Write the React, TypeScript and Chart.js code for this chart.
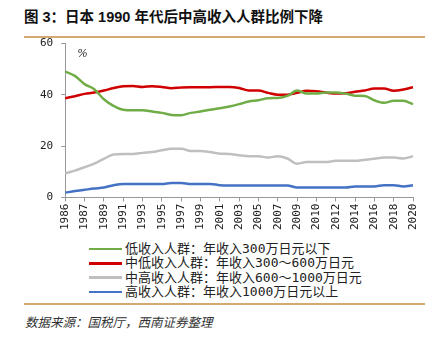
import React, { useEffect, useRef } from "react";
import { Chart, registerables } from "chart.js";

Chart.register(...registerables);

const titleText = "图 3：日本 1990 年代后中高收入人群比例下降";
const sourceText = "数据来源：国税厅，西南证券整理";
const unitText = "%";

const years = [
  "1986", "", "1987", "1988", "1989", "1990", "1991", "1992", "1993", "1994",
  "1995", "1996", "1997", "1998", "1999", "2000", "2001", "2002", "2003", "2004",
  "2005", "2006", "2007", "2008", "2009", "", "2010", "2011", "2012", "2013",
  "2014", "2015", "2016", "2017", "2018", "2019", "2020",
];

const seriesNames = [
  "低收入人群：年收入300万日元以下",
  "中低收入人群：年收入300～600万日元",
  "中高收入人群：年收入600～1000万日元",
  "高收入人群：年收入1000万日元以上",
];
const seriesColors = ["#70ad47", "#d00000", "#bfbfbf", "#4472c4"];

const lowIncome = [
  49.1, 47.4, 44.2, 42.2, 38.3, 35.7, 34.2, 34.0, 34.0, 33.5,
  33.0, 32.2, 32.1, 33.0, 33.5, 34.2, 34.8, 35.5, 36.4, 37.4,
  37.9, 38.7, 38.8, 39.6, 41.7, 40.5, 40.5, 40.9, 40.9, 40.5,
  39.7, 39.6, 37.9, 36.9, 37.7, 37.7, 36.4,
];
const lowerMiddle = [
  38.7, 39.5, 40.4, 40.9, 41.7, 42.7, 43.4, 43.5, 43.1, 43.4,
  43.1, 42.6, 42.9, 43.0, 43.0, 43.0, 43.1, 43.1, 42.7, 41.7,
  41.7, 40.8, 40.1, 40.1, 40.8, 41.6, 41.4, 40.9, 40.5, 40.6,
  41.2, 41.7, 42.5, 42.5, 41.6, 42.1, 43.0,
];
const upperMiddle = [
  9.4, 10.5, 11.8, 13.2, 15.1, 16.8, 17.0, 17.0, 17.4, 17.7,
  18.4, 19.0, 19.0, 18.1, 18.1, 17.7, 17.1, 17.0, 16.5, 16.1,
  16.1, 15.6, 16.1, 15.2, 13.2, 13.8, 13.8, 13.8, 14.3, 14.3,
  14.3, 14.7, 15.1, 15.6, 15.6, 15.2, 16.1,
];
const highIncome = [
  1.9, 2.5, 3.0, 3.5, 3.9, 4.8, 5.3, 5.3, 5.3, 5.3,
  5.3, 5.7, 5.7, 5.3, 5.3, 5.3, 4.8, 4.7, 4.7, 4.7,
  4.7, 4.7, 4.7, 4.7, 3.9, 3.9, 3.9, 3.9, 3.9, 3.9,
  4.3, 4.3, 4.3, 4.8, 4.8, 4.3, 4.8,
];
const seriesValues = [lowIncome, lowerMiddle, upperMiddle, highIncome];

const yTicks = [0, 20, 40, 60];

const monoFont = '"DejaVu Sans Mono", monospace';
const cjkFont = '"DejaVu Sans Mono", "Noto Sans CJK SC", sans-serif';

export default function App() {
  const canvasRef = useRef<HTMLCanvasElement | null>(null);

  useEffect(() => {
    if (!canvasRef.current) return;
    const unitPlugin = {
      id: "unitLabel",
      afterDraw(chart: any) {
        const { ctx, chartArea } = chart;
        ctx.save();
        ctx.font = 'italic 11px "DejaVu Serif", serif';
        ctx.fillStyle = "#333";
        ctx.textBaseline = "middle";
        ctx.fillText(unitText, chartArea.left + 12, chartArea.top + 11);
        ctx.restore();
      },
    };
    const chart = new Chart(canvasRef.current, {
      type: "line",
      data: {
        labels: years,
        datasets: seriesValues.map((vals, i) => ({
          label: seriesNames[i],
          data: vals,
          borderColor: seriesColors[i],
          backgroundColor: seriesColors[i],
          borderWidth: 2.5,
          pointRadius: 0,
          tension: 0.3,
          cubicInterpolationMode: "monotone" as const,
          fill: false,
        })),
      },
      options: {
        responsive: false,
        animation: false,
        layout: { padding: { left: 32, right: 24, top: 6, bottom: 2 } },
        plugins: { legend: { display: false }, tooltip: { enabled: false } },
        scales: {
          x: {
            offset: false,
            border: { display: true, color: "#999", width: 1 },
            grid: {
              drawOnChartArea: false,
              tickLength: 4,
              color: (ctx: any) => (ctx.index % 2 === 0 ? "#999" : "rgba(0,0,0,0)"),
            },
            ticks: {
              autoSkip: false,
              maxRotation: 90,
              minRotation: 90,
              padding: 2,
              color: "#222",
              font: { family: monoFont, size: 11 },
              callback: (_v: any, i: number) => (i % 2 === 0 ? years[i] : ""),
            },
          },
          y: {
            min: 0,
            max: 60,
            border: { display: true, color: "#999", width: 1 },
            grid: { drawOnChartArea: false, tickLength: 4, color: "#999" },
            afterBuildTicks: (axis: any) => {
              axis.ticks = yTicks.map((v) => ({ value: v }));
            },
            ticks: {
              padding: 8,
              color: "#222",
              font: { family: monoFont, size: 11 },
            },
          },
        },
      },
      plugins: [unitPlugin],
    });
    return () => chart.destroy();
  }, []);

  const rule: React.CSSProperties = {
    position: "absolute",
    left: 24,
    width: 401,
    height: 2,
    background: "#d2aa72",
  };

  return (
    <div
      style={{
        position: "fixed",
        left: 0,
        top: 0,
        width: 437,
        height: 343,
        background: "#fff",
        overflow: "hidden",
      }}
    >
      <div
        style={{
          position: "absolute",
          left: 24,
          top: 7,
          fontFamily: '"Liberation Sans", "Noto Sans CJK SC", sans-serif',
          fontWeight: "bold",
          fontSize: 14.5,
          lineHeight: "20px",
          color: "#111",
          whiteSpace: "nowrap",
        }}
      >
        {titleText}
      </div>
      <div style={{ ...rule, top: 36 }} />
      <canvas
        ref={canvasRef}
        width={437}
        height={205}
        style={{ position: "absolute", left: 0, top: 29, width: 437, height: 205 }}
      />
      <div style={{ position: "absolute", left: 89, top: 242 }}>
        {seriesNames.map((name, i) => (
          <div
            key={name}
            style={{ display: "flex", alignItems: "center", height: 14.3, whiteSpace: "nowrap" }}
          >
            <span
              style={{
                display: "inline-block",
                width: 33,
                height: 2.5,
                background: seriesColors[i],
                marginRight: 3,
              }}
            />
            <span style={{ fontFamily: cjkFont, fontSize: 13, color: "#222", lineHeight: "14px" }}>
              {name}
            </span>
          </div>
        ))}
      </div>
      <div style={{ ...rule, top: 303 }} />
      <div
        style={{
          position: "absolute",
          left: 25,
          top: 313,
          fontFamily: '"Noto Sans CJK SC", sans-serif',
          fontStyle: "italic",
          fontSize: 12.5,
          lineHeight: "18px",
          color: "#333",
          whiteSpace: "nowrap",
        }}
      >
        {sourceText}
      </div>
    </div>
  );
}
